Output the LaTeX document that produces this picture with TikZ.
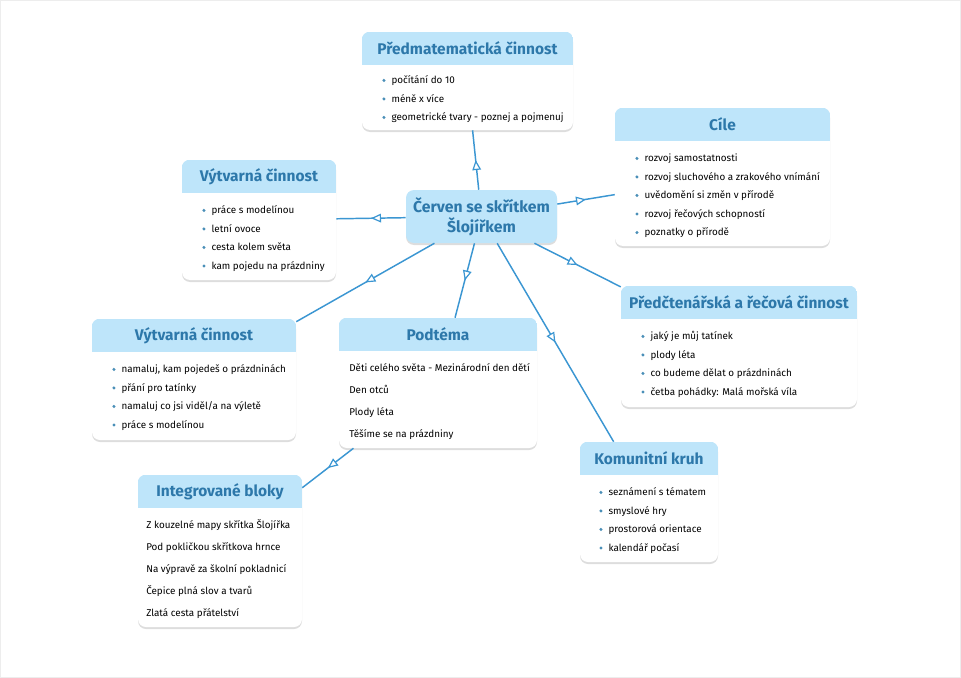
\documentclass[tikz,border=0pt]{standalone}
\usepackage{fontspec}
\setmainfont{Fira Sans}
\usetikzlibrary{arrows.meta,decorations.markings,shadows,fit}
\definecolor{headblue}{HTML}{BEE5FA}
\definecolor{titleblue}{HTML}{2D78AA}
\definecolor{lineblue}{HTML}{3B96D2}
\definecolor{dotblue}{HTML}{4A8FB8}
\newcommand\bul{\strut\tikz[baseline=-2.5pt]\fill[dotblue] (0,0) circle (1.25pt);\hspace{4.5pt}}

\begin{document}
\begin{tikzpicture}[x=0.75pt,y=-0.75pt,
  card/.style={fill=white,rounded corners=6pt,inner sep=0pt,
    drop shadow={shadow xshift=0pt,shadow yshift=-1.5pt,opacity=0.22,fill=black!60}},
  title/.style={font=\fontsize{11.6}{13}\selectfont\bfseries,text=titleblue},
  items/.style={anchor=north west,align=left,inner sep=0pt,
    font=\fontsize{7.4}{13.9}\selectfont},
  plain/.style={items,font=\fontsize{7.4}{16.5}\selectfont}]
\useasboundingbox (0,0) rectangle (961,678);
\draw[black!7] (0.5,0.5) rectangle (960.5,677.5);

% boxes
\node[card,fit={(362,32) (573,130)}]  (pm)   {};
\node[card,fit={(615,108) (830,246)}] (cile) {};
\node[card,fit={(182,160) (336,280)}] (vt1)  {};
\node[card,fit={(621,286) (857,407)}] (pc)   {};
\node[card,fit={(92,319) (296,440)}]  (vt2)  {};
\node[card,fit={(339,318) (537,448)}] (pod)  {};
\node[card,fit={(580,442) (718,562)}] (kk)   {};
\node[card,fit={(138,475) (302,627)}] (ib)   {};

\foreach \b in {pm,cile,vt1,pc,vt2,pod,kk,ib}{
  \begin{scope}
    \clip[rounded corners=6pt] (\b.south west) rectangle (\b.north east);
    \fill[headblue] (\b.north west) rectangle ([yshift=-24.75pt]\b.north east);
  \end{scope}
}

\node[card,fill=headblue,minimum width=113.25pt,minimum height=39.75pt,align=center,
  font=\fontsize{11.8}{15}\selectfont\bfseries,text=titleblue] (cen) at (481.5,216.5)
  {Červen se skřítkem\\Šlojířkem};

% titles
\node[title] (pmt)   at ([yshift=-12pt]pm.north)   {Předmatematická činnost};
\node[title] (cilet) at ([yshift=-12.4pt]cile.north) {Cíle};
\node[title] (vt1t)  at ([yshift=-12.4pt]vt1.north)  {Výtvarná činnost};
\node[title] (pct)   at ([yshift=-12.4pt]pc.north)   {Předčtenářská a řečová činnost};
\node[title] (vt2t)  at ([yshift=-12.4pt]vt2.north)  {Výtvarná činnost};
\node[title] (podt)  at ([yshift=-12.4pt]pod.north)  {Podtéma};
\node[title] (kkt)   at ([yshift=-12.4pt]kk.north)   {Komunitní kruh};
\node[title] (ibt)   at ([yshift=-12.4pt]ib.north)   {Integrované bloky};

% texts
\node[items] (pmx) at (382,70.5)
  {\bul počítání do 10\\\bul méně x více\\\bul geometrické tvary - poznej a pojmenuj};
\node[items] (cilex) at (635,148.5)
  {\bul rozvoj samostatnosti\\\bul rozvoj sluchového a zrakového vnímání\\
   \bul uvědomění si změn v přírodě\\\bul rozvoj řečových schopností\\\bul poznatky o přírodě};
\node[items] (vt1x) at (202,200.5)
  {\bul práce s modelínou\\\bul letní ovoce\\\bul cesta kolem světa\\\bul kam pojedu na prázdniny};
\node[items] (pcx) at (641,326.5)
  {\bul jaký je můj tatínek\\\bul plody léta\\\bul co budeme dělat o prázdninách\\
   \bul četba pohádky: Malá mořská víla};
\node[items] (vt2x) at (112,359.5)
  {\bul namaluj, kam pojedeš o prázdninách\\\bul přání pro tatínky\\
   \bul namaluj co jsi viděl/a na výletě\\\bul práce s modelínou};
\node[items] (kkx) at (599,482.5)
  {\bul seznámení s tématem\\\bul smyslové hry\\\bul prostorová orientace\\\bul kalendář počasí};
\node[plain] (podx) at (349,356)
  {\strut Děti celého světa - Mezinárodní den dětí\\Den otců\\Plody léta\\Těšíme se na prázdniny};
\node[plain] (ibx) at (146,513)
  {\strut Z kouzelné mapy skřítka Šlojířka\\Pod pokličkou skřítkova hrnce\\
   Na výpravě za školní pokladnicí\\Čepice plná slov a tvarů\\Zlatá cesta přátelství};

% links
\begin{scope}[every edge/.style={draw=lineblue,line width=1.1pt,
    postaction={decorate,decoration={markings,mark=at position 0.5 with
    {\arrow{Triangle[fill=white,length=7.5pt,width=6.5pt,line width=0.9pt]}}}}}]
    \path (cen) edge (pm);
    \path (cen) edge (cile);
    \path (cen) edge (vt1);
    \path (cen) edge (pc);
    \path (cen) edge (vt2);
    \path (cen) edge (pod);
    \path (cen) edge (kk);
    \path (pod) edge (ib);
\end{scope}
\end{tikzpicture}
\end{document}
